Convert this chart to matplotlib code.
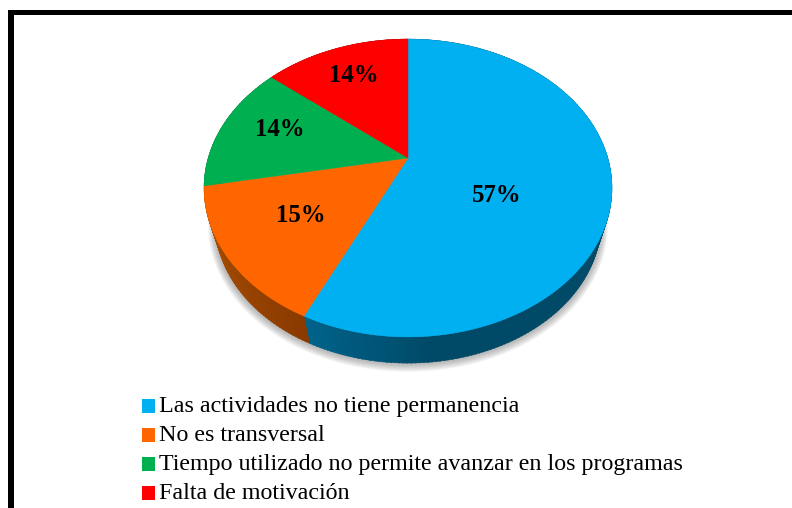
import numpy as np
import matplotlib
matplotlib.use("Agg")
import matplotlib.pyplot as plt
from matplotlib.patches import Polygon, Rectangle

categories = [
    "Las actividades no tiene permanencia",
    "No es transversal",
    "Tiempo utilizado no permite avanzar en los programas",
    "Falta de motivación",
]
values = [57, 15, 14, 14]
colors = ["#00B0F0", "#FF6600", "#00B050", "#FF0000"]

# side wall colours, start and end of each slice
side_start = ["#004A68", "#8A3A00", "#006030", "#8A0000"]
side_end = ["#00648C", "#B05000", "#006030", "#8A0000"]
label_pos = [(496.5, 195.5), (301, 215), (279.5, 129), (354, 75)]

# pie projection, in pixels
CX, CY = 408, 158
A, B, K = 199.8, 142.9, 0.2014
DEPTH, SHRINK = 36, 0.945


def project(theta, scale=1.0, dy=0.0):
    # theta is clockwise from 12 o'clock, in degrees
    t = np.radians(theta)
    w = 1 + K * np.cos(t)
    return CX + scale * A * np.sin(t) / w, CY + dy - scale * B * np.cos(t) / w


fig = plt.figure(figsize=(7.92, 5.08), dpi=100)
ax = fig.add_axes([0, 0, 1, 1])
ax.set_xlim(0, 792)
ax.set_ylim(508, 0)
ax.axis("off")

# frame: only top and left are visible
ax.add_patch(Rectangle((8, 9.5), 784, 5.5, color="black", lw=0))
ax.add_patch(Rectangle((8, 9.5), 5.5, 499, color="black", lw=0))

# soft shadow under the pie
full = np.linspace(0, 360, 361)
for grow in np.linspace(7, 0, 12):
    x, y = project(full, SHRINK + grow / 200, DEPTH + grow * 0.35)
    ax.add_patch(Polygon(np.column_stack([x, y]), color="#707070", alpha=0.06, lw=0, zorder=1))

angles = np.cumsum([0] + values) / sum(values) * 360

# side walls, split in thin strips for the gradient
for i in range(len(values)):
    c0 = np.array(matplotlib.colors.to_rgb(side_start[i]))
    c1 = np.array(matplotlib.colors.to_rgb(side_end[i]))
    steps = np.arange(angles[i], angles[i + 1], 1.0)
    span = angles[i + 1] - angles[i]
    for a in steps:
        f = (a - angles[i]) / span
        # blue only lightens near its very end
        if i == 0:
            f = max(0.0, (f - 0.85) / 0.15)
        b = min(a + 1.3, angles[i + 1])
        seg = np.array([a, b])
        xt, yt = project(seg)
        xb, yb = project(seg[::-1], SHRINK, DEPTH)
        pts = np.column_stack([np.r_[xt, xb], np.r_[yt, yb]])
        ax.add_patch(Polygon(pts, color=c0 + (c1 - c0) * f, lw=0.3, zorder=2))

# top surface
for i in range(len(values)):
    th = np.linspace(angles[i], angles[i + 1], 200)
    x, y = project(th)
    pts = np.column_stack([np.r_[CX, x], np.r_[CY, y]])
    ax.add_patch(Polygon(pts, color=colors[i], lw=0.3, zorder=3))

for v, (lx, ly) in zip(values, label_pos):
    ax.text(lx, ly, f"{v}%", ha="center", va="center", family="Liberation Serif",
            fontweight="bold", fontsize=17.8, color="black", zorder=4)

# legend
for i, name in enumerate(categories):
    top = 399 + 29 * i
    ax.add_patch(Rectangle((141.5, top), 13.5, 13.5, color=colors[i], lw=0, zorder=4))
    ax.text(159, top + 7.5, name, ha="left", va="center", family="Liberation Serif",
            fontsize=17.3, color="black", zorder=4)

fig.savefig("out.png", dpi=100, facecolor="white")
